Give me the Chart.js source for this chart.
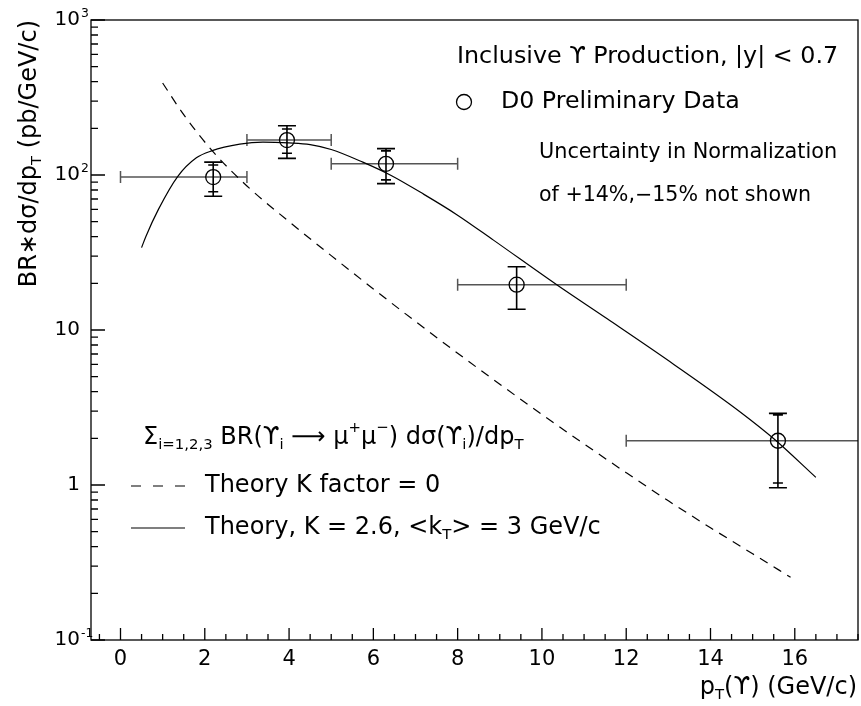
<!DOCTYPE html>
<html>
<head>
<meta charset="utf-8">
<script src="https://cdn.jsdelivr.net/npm/chart.js@4.4.1/dist/chart.umd.min.js"></script>
<style>
  html, body { margin: 0; padding: 0; background: #fff; }
  canvas { display: block; }
</style>
</head>
<body>
<canvas id="chart" width="861" height="706"></canvas>
<script>
// D0 inclusive Upsilon points: bin centre, bin edges, value, errors (pb/GeV/c)
const ptCenter = [2.2, 3.95, 6.3, 9.4, 15.6];
const ptBinLo  = [0, 3, 5, 8, 12];
const ptBinHi  = [3, 5, 8, 12, 20];
const xsec     = [97, 168, 118, 19.6, 1.93];
const errTotal = [24, 40, 30, 6, 0.97];
const errStat  = [19, 30, 25, 6, 0.9];

// Theory, K = 2.6, <kT> = 3 GeV/c (solid)
const theoryKtPt  = [0.5, 0.6, 0.9, 1.36, 1.8, 2.16, 2.83, 3.38, 4.0, 4.5, 5.0, 5.75, 6.4, 7.2, 7.98, 8.85, 10.36, 11.55, 13.13, 14.72, 15.51, 16.5];
const theoryKtVal = [34, 40, 60, 98, 129, 143, 158, 163, 161, 157, 146, 121, 100, 75, 55.5, 38, 19.5, 11.8, 6.0, 2.94, 1.98, 1.12];

// Theory K factor = 0 (dashed)
const theoryK0Pt  = [1.0, 1.5, 2.19, 3.0, 4.0, 5.0, 6.0, 7.0, 8.0, 9.0, 10.0, 11.0, 12.0, 13.0, 14.0, 15.0, 15.9];
const theoryK0Val = [392, 245, 142, 85, 50, 30.2, 18.4, 11.35, 7.08, 4.47, 2.85, 1.84, 1.2, 0.79, 0.53, 0.36, 0.254];

const xTicks = [0, 2, 4, 6, 8, 10, 12, 14, 16];
const yTicks = [0.1, 1, 10, 100, 1000];

const FONT = "'DejaVu Sans', sans-serif";

// draw text made of normal / sub / sup runs
function drawRuns(ctx, runs, x, y, size, align) {
  const parts = runs.map(([t, kind]) => {
    const s = kind === "n" ? size : size * 0.62;
    ctx.font = s + "px " + FONT;
    return { t, kind, s, w: ctx.measureText(t).width };
  });
  const total = parts.reduce((a, p) => a + p.w, 0);
  let cx = align === "right" ? x - total : align === "center" ? x - total / 2 : x;
  ctx.textBaseline = "middle";
  ctx.textAlign = "left";
  parts.forEach((p) => {
    ctx.font = p.s + "px " + FONT;
    let dy = 0;
    if (p.kind === "sub") dy = size * 0.3;
    if (p.kind === "sup") dy = -size * 0.42;
    ctx.fillText(p.t, cx, y + dy);
    cx += p.w;
  });
}

const decorPlugin = {
  id: "decor",
  beforeDatasetsDraw(chart) {
    const { ctx, chartArea: a, scales: { x, y } } = chart;
    ctx.save();
    ctx.beginPath();
    ctx.rect(a.left, a.top, a.right - a.left, a.bottom - a.top);
    ctx.clip();
    ptCenter.forEach((pt, i) => {
      const px = x.getPixelForValue(pt);
      const py = y.getPixelForValue(xsec[i]);
      // horizontal bin width bar
      const xl = x.getPixelForValue(ptBinLo[i]);
      const xr = x.getPixelForValue(ptBinHi[i]);
      ctx.strokeStyle = "#555";
      ctx.lineWidth = 1.5;
      ctx.beginPath();
      ctx.moveTo(xl, py); ctx.lineTo(xr, py);
      ctx.moveTo(xl, py - 6); ctx.lineTo(xl, py + 6);
      ctx.moveTo(xr, py - 6); ctx.lineTo(xr, py + 6);
      ctx.stroke();
      // vertical error bar with total and stat caps
      const yt = y.getPixelForValue(xsec[i] + errTotal[i]);
      const yb = y.getPixelForValue(xsec[i] - errTotal[i]);
      const st = y.getPixelForValue(xsec[i] + errStat[i]);
      const sb = y.getPixelForValue(xsec[i] - errStat[i]);
      ctx.strokeStyle = "#000";
      ctx.lineWidth = 1.6;
      ctx.beginPath();
      ctx.moveTo(px, yt); ctx.lineTo(px, yb);
      ctx.moveTo(px - 9, yt); ctx.lineTo(px + 9, yt);
      ctx.moveTo(px - 9, yb); ctx.lineTo(px + 9, yb);
      if (errStat[i] !== errTotal[i]) {
        ctx.moveTo(px - 5, st); ctx.lineTo(px + 5, st);
        ctx.moveTo(px - 5, sb); ctx.lineTo(px + 5, sb);
      }
      ctx.stroke();
    });
    ctx.restore();
  },
  afterDraw(chart) {
    const { ctx, chartArea: a, scales: { x, y } } = chart;
    ctx.save();
    ctx.strokeStyle = "#000";
    ctx.fillStyle = "#000";
    ctx.lineWidth = 1.3;
    // frame
    ctx.strokeRect(a.left, a.top, a.right - a.left, a.bottom - a.top);
    // inward ticks
    ctx.beginPath();
    for (let v = -0.5; v <= 17.5; v += 0.5) {
      const px = x.getPixelForValue(v);
      const len = Math.abs(v % 2) < 1e-9 ? 12 : 6;
      ctx.moveTo(px, a.bottom); ctx.lineTo(px, a.bottom - len);
    }
    for (let d = 0.1; d < 1000; d *= 10) {
      for (let m = 1; m < 10; m++) {
        const py = y.getPixelForValue(d * m);
        const len = m === 1 ? 14 : 7;
        ctx.moveTo(a.left, py); ctx.lineTo(a.left + len, py);
      }
    }
    ctx.moveTo(a.left, y.getPixelForValue(1000)); ctx.lineTo(a.left + 14, y.getPixelForValue(1000));
    ctx.stroke();

    // y tick labels
    const yLab = { 0.1: ["10", "-1"], 1: ["1", ""], 10: ["10", ""], 100: ["10", "2"], 1000: ["10", "3"] };
    yTicks.forEach((v) => {
      const py = y.getPixelForValue(v);
      const [b, e] = yLab[v];
      drawRuns(ctx, [[b, "n"]], 80, py, 20, "right");
      if (e) drawRuns(ctx, [[e, "sup"]], 81, py + 2, 20, "left");
    });

    // axis titles
    drawRuns(ctx, [["p", "n"], ["T", "sub"], ["(ϒ) (GeV/c)", "n"]], 857, 688, 24, "right");
    ctx.save();
    ctx.translate(30, 20);
    ctx.rotate(-Math.PI / 2);
    drawRuns(ctx, [["BR∗dσ/dp", "n"], ["T", "sub"], [" (pb/GeV/c)", "n"]], 0, 0, 24, "right");
    ctx.restore();

    // top-right annotations
    drawRuns(ctx, [["Inclusive ϒ Production, |y| < 0.7", "n"]], 457, 57, 23.8, "left");
    ctx.lineWidth = 1.3;
    ctx.beginPath();
    ctx.arc(464, 102, 7.5, 0, Math.PI * 2);
    ctx.stroke();
    drawRuns(ctx, [["D0 Preliminary Data", "n"]], 501, 102, 23.7, "left");
    drawRuns(ctx, [["Uncertainty in Normalization", "n"]], 539, 153, 20.8, "left");
    drawRuns(ctx, [["of +14%,−15% not shown", "n"]], 539, 196, 20.6, "left");

    // lower-left legend
    drawRuns(ctx, [["Σ", "n"], ["i=1,2,3", "sub"], [" BR(ϒ", "n"], ["i", "sub"], [" ⟶ μ", "n"], ["+", "sup"], ["μ", "n"], ["−", "sup"], [") dσ(ϒ", "n"], ["i", "sub"], [")/dp", "n"], ["T", "sub"]], 143, 438, 24, "left");
    ctx.lineWidth = 1.2;
    ctx.setLineDash([10, 12]);
    ctx.beginPath(); ctx.moveTo(131, 486); ctx.lineTo(185, 486); ctx.stroke();
    ctx.setLineDash([]);
    ctx.beginPath(); ctx.moveTo(131, 528); ctx.lineTo(185, 528); ctx.stroke();
    drawRuns(ctx, [["Theory K factor = 0", "n"]], 205, 486, 24, "left");
    drawRuns(ctx, [["Theory, K = 2.6, <k", "n"], ["T", "sub"], ["> = 3 GeV/c", "n"]], 205, 528, 24, "left");
    ctx.restore();
  },
};

new Chart(document.getElementById("chart"), {
  type: "scatter",
  data: {
    datasets: [
      {
        label: "D0 Preliminary Data",
        data: ptCenter.map((x, i) => ({ x, y: xsec[i] })),
        pointStyle: "circle",
        pointRadius: 7.5,
        borderColor: "#000",
        backgroundColor: "rgba(0,0,0,0)",
        borderWidth: 1.3,
        showLine: false,
      },
      {
        label: "Theory, K = 2.6",
        data: theoryKtPt.map((x, i) => ({ x, y: theoryKtVal[i] })),
        showLine: true,
        pointRadius: 0,
        borderColor: "#000",
        borderWidth: 1.2,
        cubicInterpolationMode: "monotone",
      },
      {
        label: "Theory K factor = 0",
        data: theoryK0Pt.map((x, i) => ({ x, y: theoryK0Val[i] })),
        showLine: true,
        pointRadius: 0,
        borderColor: "#000",
        borderWidth: 1.2,
        borderDash: [9, 7],
        cubicInterpolationMode: "monotone",
      },
    ],
  },
  options: {
    responsive: false,
    animation: false,
    layout: { autoPadding: false, padding: { top: 20, right: 3, left: 0, bottom: 0 } },
    plugins: { legend: { display: false }, tooltip: { enabled: false } },
    scales: {
      x: {
        type: "linear",
        min: -0.7,
        max: 17.5,
        grid: { display: false, drawTicks: false },
        border: { display: false },
        ticks: { color: "#000", font: { family: FONT, size: 21 }, padding: 7 },
        afterBuildTicks: (s) => { s.ticks = xTicks.map((v) => ({ value: v })); },
        afterFit: (s) => { s.height = 66; s.paddingLeft = 0; s.paddingRight = 0; },
      },
      y: {
        type: "logarithmic",
        min: 0.1,
        max: 1000,
        grid: { display: false, drawTicks: false },
        border: { display: false },
        ticks: { display: false },
        afterBuildTicks: (s) => { s.ticks = yTicks.map((v) => ({ value: v })); },
        afterFit: (s) => { s.width = 91; s.paddingTop = 0; s.paddingBottom = 0; },
      },
    },
  },
  plugins: [decorPlugin],
});
</script>
</body>
</html>
